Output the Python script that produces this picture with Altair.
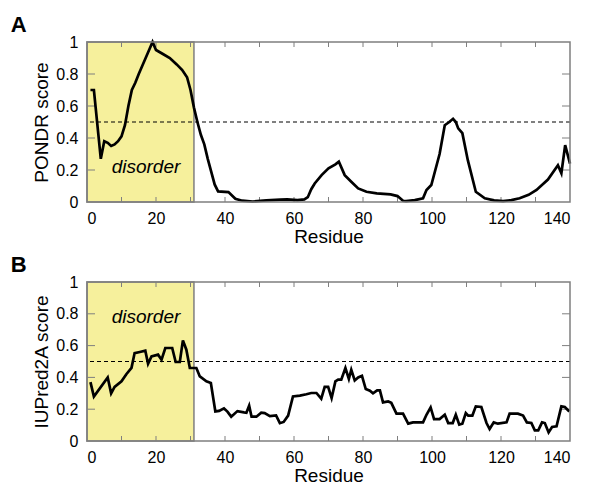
import altair as alt
import pandas as pd

# ---- data ----
pondr_res = [1, 2, 4, 5, 6, 7, 8, 9, 10, 11, 12, 13, 14, 15, 16, 17, 18, 19, 20, 22, 24, 26,
             27.6, 29, 30, 31, 32, 33, 34, 35, 36, 37, 38, 41, 43, 45, 48, 52, 56, 58, 61, 63,
             64, 65, 66, 68, 70, 72, 73, 74.7, 76.6, 78.6, 81, 84, 88, 90, 91.6, 92.5, 95, 97.4,
             98.4, 99.8, 102.2, 103.7, 105, 106.1, 106.9, 107.6, 108.8, 110.4, 112.7, 115.3,
             118, 120.6, 123, 125.4, 128, 130.3, 133.6, 136.5, 137.5, 138.6, 140]
pondr_val = [0.70, 0.70, 0.27, 0.38, 0.37, 0.35, 0.36, 0.38, 0.41, 0.48, 0.60, 0.70, 0.745, 0.80,
             0.85, 0.90, 0.95, 1.0, 0.95, 0.925, 0.90, 0.86, 0.825, 0.78, 0.70, 0.59, 0.50, 0.42,
             0.36, 0.27, 0.19, 0.11, 0.066, 0.062, 0.02, 0.008, 0.003, 0.01, 0.015, 0.017, 0.012,
             0.016, 0.03, 0.08, 0.116, 0.168, 0.21, 0.235, 0.252, 0.168, 0.127, 0.085, 0.064,
             0.054, 0.048, 0.037, 0.008, 0.005, 0.012, 0.023, 0.075, 0.106, 0.30, 0.48, 0.50,
             0.52, 0.50, 0.46, 0.43, 0.26, 0.064, 0.023, 0.01, 0.006, 0.012, 0.023, 0.045,
             0.075, 0.14, 0.23, 0.18, 0.355, 0.24]

iup_res = [1, 2, 6, 7, 8, 10, 11.4, 12.9, 13.8, 15.3, 16.9, 17.7, 18.7, 20.6, 21.6, 22.7, 24.7,
           25.7, 26.9, 27.8, 28.8, 29.8, 31.7, 32.7, 34.6, 35.9, 37.2, 38.3, 39.7, 40.7, 41.8,
           43.6, 45.5, 46.2, 47, 47.7, 49.1, 50.5, 51.5, 53, 54.8, 55.9, 57, 58.3, 59.7, 61.7,
           63.6, 65, 66.5, 67.9, 68.9, 69.9, 70.9, 72, 72.8, 73.7, 74.9, 75.9, 76.6, 77.6, 78.6,
           79.7, 80.8, 82, 82.9, 84.1, 84.9, 85.8, 87.3, 88.2, 89.7, 91.6, 93.1, 94.5, 97.4,
           98.4, 99.6, 100.6, 102.2, 103.7, 104.7, 106, 106.9, 107.9, 108.8, 109.8, 110.5,
           111.7, 112.7, 114.3, 115.8, 116.7, 117.9, 119.1, 121.6, 122.5, 124.9, 126.4, 127.5,
           128.8, 129.8, 130.8, 131.9, 132.7, 133.8, 134.8, 136.1, 137.5, 138.5, 139.8]
iup_val = [0.37, 0.28, 0.40, 0.30, 0.34, 0.375, 0.42, 0.46, 0.553, 0.56, 0.568, 0.486, 0.532,
           0.543, 0.511, 0.585, 0.585, 0.497, 0.497, 0.633, 0.574, 0.459, 0.459, 0.406, 0.375,
           0.365, 0.186, 0.189, 0.205, 0.185, 0.153, 0.188, 0.18, 0.178, 0.222, 0.153, 0.153,
           0.178, 0.175, 0.156, 0.161, 0.112, 0.12, 0.16, 0.28, 0.285, 0.294, 0.302, 0.302,
           0.266, 0.34, 0.34, 0.27, 0.375, 0.386, 0.386, 0.459, 0.39, 0.448, 0.381, 0.40, 0.41,
           0.327, 0.316, 0.30, 0.318, 0.318, 0.243, 0.249, 0.24, 0.172, 0.172, 0.109, 0.117,
           0.117, 0.165, 0.211, 0.138, 0.138, 0.165, 0.113, 0.113, 0.165, 0.103, 0.109, 0.176,
           0.16, 0.16, 0.218, 0.214, 0.113, 0.075, 0.117, 0.109, 0.117, 0.172, 0.172, 0.16,
           0.117, 0.113, 0.067, 0.067, 0.117, 0.113, 0.054, 0.088, 0.092, 0.218, 0.214, 0.186]

disorder_start, disorder_end = 0, 31
threshold = 0.5
x_ticks = list(range(10, 140, 10))
y_ticks = [0.2, 0.4, 0.6, 0.8]
x_labels = [0, 20, 40, 60, 80, 100, 120, 140]
y_labels = [0, 0.2, 0.4, 0.6, 0.8, 1]

W = 483
FONT = "Liberation Sans"
GRAY = "#7f7f7f"
YELLOW = "#f6f09c"


def panel(res, val, ytitle, letter, text_y, h):
    df = pd.DataFrame({"residue": res, "score": val})
    xs = alt.Scale(domain=[0, 140], nice=False, zero=False)
    ys = alt.Scale(domain=[0, 1], nice=False)
    xax = alt.Axis(values=x_labels, ticks=False, domain=False, grid=False,
                   labelPadding=8, titlePadding=1)
    yax = alt.Axis(values=y_labels, ticks=False, domain=False, grid=False,
                   labelPadding=9, titlePadding=4,
                   labelExpr="datum.value == 0 ? '0' : datum.value == 1 ? '1' : format(datum.value, '.1f')")

    def X(f):
        return alt.X(f, scale=xs, axis=xax, title="Residue")

    def Y(f):
        return alt.Y(f, scale=ys, axis=yax, title=ytitle)

    shade = alt.Chart(pd.DataFrame({"a": [disorder_start], "b": [disorder_end], "lo": [0], "hi": [1]})).mark_rect(
        color=YELLOW, stroke=GRAY, strokeWidth=1.5
    ).encode(x=X("a:Q"), x2="b:Q", y=Y("lo:Q"), y2="hi:Q")
    thr = alt.Chart(pd.DataFrame({"t": [threshold]})).mark_rule(
        color="black", strokeWidth=1, strokeDash=[4, 3]
    ).encode(y=Y("t:Q"))
    label = alt.Chart(pd.DataFrame({"x": [17.1], "y": [text_y], "s": ["disorder"]})).mark_text(
        font=FONT, fontSize=19, fontStyle="italic", color="black"
    ).encode(x=X("x:Q"), y=Y("y:Q"), text="s:N")
    line = alt.Chart(df).mark_line(color="black", strokeWidth=2.7, strokeJoin="miter").encode(
        x=X("residue:Q"), y=Y("score:Q"))
    xt = alt.Chart(pd.DataFrame({"t": x_ticks}))
    yt = alt.Chart(pd.DataFrame({"t": y_ticks}))
    ticks = [
        xt.mark_rule(color=GRAY, strokeWidth=1).encode(x=X("t:Q"), y=alt.value(h), y2=alt.value(h - 5)),
        xt.mark_rule(color=GRAY, strokeWidth=1).encode(x=X("t:Q"), y=alt.value(0), y2=alt.value(5)),
        yt.mark_rule(color=GRAY, strokeWidth=1).encode(y=Y("t:Q"), x=alt.value(0), x2=alt.value(8)),
        yt.mark_rule(color=GRAY, strokeWidth=1).encode(y=Y("t:Q"), x=alt.value(W), x2=alt.value(W - 8)),
    ]
    frame = alt.Chart(pd.DataFrame({"t": [0]})).mark_rect(
        fill=None, stroke=GRAY, strokeWidth=1.5
    ).encode(x=alt.value(0), x2=alt.value(W), y=alt.value(0), y2=alt.value(h))
    return alt.layer(shade, *ticks, thr, label, line, frame).properties(
        width=W, height=h,
        title=alt.TitleParams(text=letter, anchor="start", font=FONT, fontSize=22,
                              fontWeight="bold", color="black", dx=-22, offset=-3),
    )


a = panel(pondr_res, pondr_val, "PONDR score", "A", 0.216, 160)
b = panel(iup_res, iup_val, "IUPred2A score", "B", 0.78, 159)

chart = alt.vconcat(a, b, spacing=8).properties(
    padding={"left": 10, "top": 14, "right": 5, "bottom": 2}
).configure_view(stroke=None).configure_axis(
    labelFont=FONT, labelFontSize=16, labelColor="black",
    titleFont=FONT, titleFontSize=19, titleFontWeight="normal", titleColor="black",
).configure_title(frame="bounds")

chart.save("out.html", embed_options={"renderer": "svg", "actions": False})
